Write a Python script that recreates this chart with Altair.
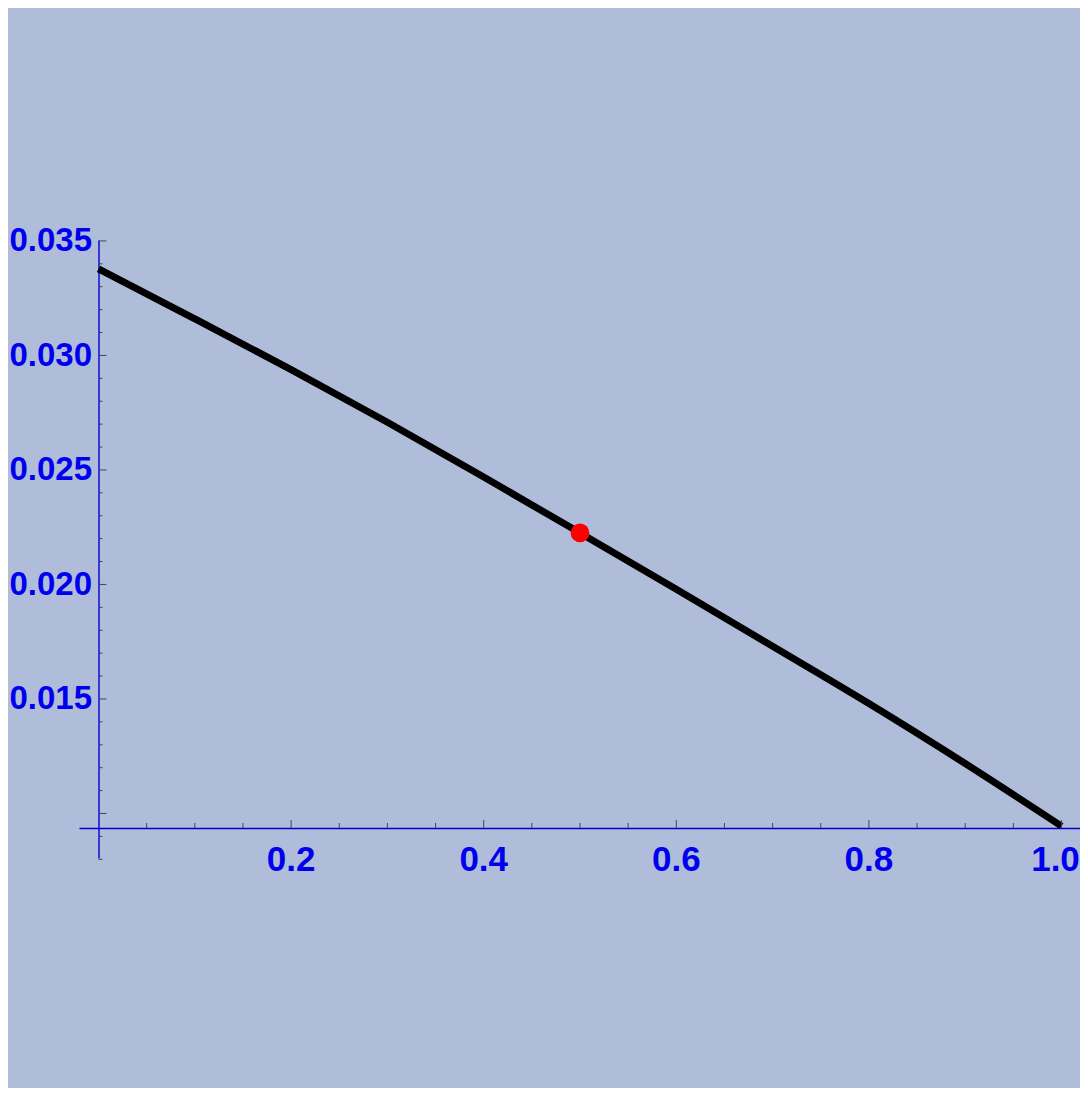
import altair as alt
import pandas as pd

# curve values
x_vals = [0.0, 0.1, 0.2, 0.3, 0.4, 0.5, 0.6, 0.7, 0.8, 0.9, 1.0]
y_vals = [0.03378, 0.03160, 0.02938, 0.02708, 0.02469, 0.02225, 0.01979,
          0.01730, 0.01480, 0.01218, 0.00945]

# highlighted point
pt_x = [0.5]
pt_y = [0.02225]

# axes
x_label_vals = [0.2, 0.4, 0.6, 0.8, 1.0]
y_label_vals = [0.015, 0.020, 0.025, 0.030, 0.035]
x_major = [0.2, 0.4, 0.6, 0.8, 1.0]
x_minor = [0.05, 0.1, 0.15, 0.25, 0.3, 0.35, 0.45, 0.5, 0.55, 0.65, 0.7, 0.75,
           0.85, 0.9, 0.95]
y_major = [0.010, 0.015, 0.020, 0.025, 0.030, 0.035]
y_minor = [0.008, 0.009, 0.011, 0.012, 0.013, 0.014, 0.016, 0.017, 0.018, 0.019,
           0.021, 0.022, 0.023, 0.024, 0.026, 0.027, 0.028, 0.029, 0.031, 0.032,
           0.033, 0.034]
x_axis_origin = 0.0       # y axis drawn at this x
y_axis_origin = 0.009367  # x axis drawn at this y

x_domain = [-0.02025, 1.0192]
y_domain = [0.008056, 0.03504]

BG = "#b0bdda"
LABEL = "#0000ee"
DOMAIN = "#0000cc"
TICK = "#444455"
FONT = "Liberation Sans"

xs = alt.Scale(domain=x_domain, nice=False, zero=False)
ys = alt.Scale(domain=y_domain, nice=False, zero=False)

x_axis = alt.Axis(values=x_label_vals, orient="bottom", offset=-30,
                  labels=False, ticks=False, grid=False,
                  domainColor=DOMAIN, domainWidth=1.4)
y_axis = alt.Axis(values=y_label_vals, format=".3f", orient="left",
                  offset=-19.5, labelPadding=7, labelFont=FONT,
                  labelFontWeight="bold", labelFontSize=33, labelColor=LABEL,
                  labelFlush=False, labelOverlap=False, grid=False, ticks=False,
                  domainColor=DOMAIN, domainWidth=1.4)


def X(field="x"):
    return alt.X(f"{field}:Q", scale=xs, title=None, axis=x_axis)


def Y(field="y"):
    return alt.Y(f"{field}:Q", scale=ys, title=None, axis=y_axis)


line_df = pd.DataFrame({"x": x_vals, "y": y_vals})
pt_df = pd.DataFrame({"x": pt_x, "y": pt_y})

line = alt.Chart(line_df).mark_line(color="black", strokeWidth=7,
                                    interpolate="monotone").encode(x=X(), y=Y())

point = alt.Chart(pt_df).mark_circle(color="red", opacity=1, size=350).encode(
    x=X(), y=Y())


def xticks(vals, length):
    df = pd.DataFrame({"x": vals, "y": [y_axis_origin] * len(vals)})
    return alt.Chart(df).mark_rule(color=TICK, strokeWidth=1,
                                   y2Offset=-length).encode(
        x=X(), y=Y(), y2="y:Q")


def yticks(vals, length):
    df = pd.DataFrame({"y": vals, "x": [x_axis_origin] * len(vals)})
    return alt.Chart(df).mark_rule(color=TICK, strokeWidth=1,
                                   x2Offset=length).encode(
        x=X(), x2="x:Q", y=Y())


def xlabels(vals, dx):
    df = pd.DataFrame({"x": vals, "y": [y_axis_origin] * len(vals)})
    return alt.Chart(df).mark_text(font=FONT, fontWeight="bold", fontSize=35,
                                   color=LABEL, baseline="top", align="center",
                                   dy=15, dx=dx).encode(
        x=X(), y=Y(), text=alt.Text("x:Q", format=".1f"))


chart = alt.layer(
    line,
    xticks(x_minor, 5), xticks(x_major, 8),
    yticks(y_minor, 4), yticks(y_major, 8),
    xlabels(x_label_vals[:-1], 0), xlabels(x_label_vals[-1:], -6),
    point,
).properties(
    width=1001, height=618,
    padding={"left": 71, "top": 232, "right": 0, "bottom": 230},
    autosize=alt.AutoSizeParams(type="none"),
    background=BG,
).configure_view(stroke=None)

chart.save("out.html", embed_options={"renderer": "svg", "actions": False})
